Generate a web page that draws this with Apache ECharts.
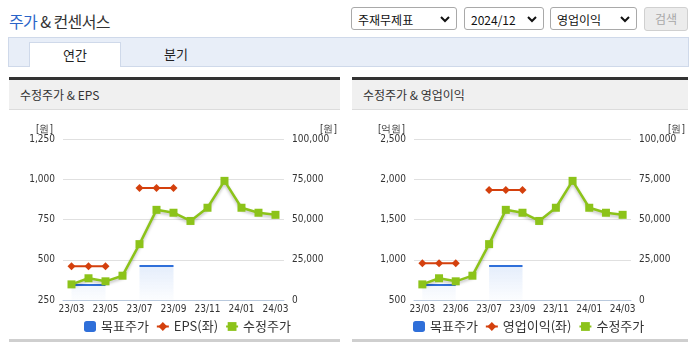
<!DOCTYPE html>
<html>
<head>
<meta charset="utf-8">
<script src="https://cdn.jsdelivr.net/npm/echarts@6/dist/echarts.min.js"></script>
<style>
  html, body { margin:0; padding:0; background:#fff; width:695px; height:349px; overflow:hidden;
    font-family:"Noto Sans CJK KR","Noto Sans",sans-serif; color:#333; }
  .abs { position:absolute; }
  #title { left:9px; top:10px; font-size:16px; line-height:22px; letter-spacing:-0.6px; color:#333; white-space:nowrap; }
  #title .b { color:#2a64c8; }
  .sel { position:absolute; top:7px; height:23px; border:1px solid #a9a9a9; border-radius:3px; background:#fff;
    font-size:12px; line-height:23px; padding-left:6px; box-sizing:border-box; color:#111; white-space:nowrap; }
  .sel svg { position:absolute; right:6px; top:8px; }
  #btn { position:absolute; left:644px; top:7px; width:44px; height:24px; border:1px solid #d0d0d0; border-radius:3px;
    background:#ececec; color:#a8a8a8; font-size:12px; line-height:22px; text-align:center; box-sizing:border-box; }
  #tabbar { left:8px; top:37px; width:681px; height:30px; background:#e8eef8; border:1px solid #cfd9ea; box-sizing:border-box; }
  #tab1 { left:29px; top:42px; width:92px; height:25px; background:#fff; border:1px solid #cfd9ea; border-bottom:none;
    box-sizing:border-box; font-size:13px; line-height:23px; text-align:center; color:#222; }
  #tab2 { left:150px; top:42px; width:52px; height:25px; font-size:13px; line-height:23px; text-align:center; color:#222; }
  .panel { position:absolute; top:77px; height:265px; }
  .panel .top { position:absolute; left:0; right:0; top:0; height:3px; background:#333; }
  .panel .hdr { position:absolute; left:0; right:0; top:3px; height:30px; background:#f0f0f0; border-bottom:1px solid #dcdcdc;
    font-size:12px; line-height:30px; padding-left:11px; color:#333; box-sizing:border-box; }
  .panel .bot { position:absolute; left:0; right:0; bottom:0; height:3px; background:#cfcfcf; }
  .chart { position:absolute; top:110px; height:229px; }
</style>
</head>
<body>
<div id="title" class="abs"><span class="b">주가</span> &amp; 컨센서스</div>

<div class="sel" style="left:351px;width:106px;">주재무제표<svg width="10" height="7" viewBox="0 0 10 7"><path d="M1 1 L5 5 L9 1" stroke="#111" stroke-width="2" fill="none"/></svg></div>
<div class="sel" style="left:464px;width:80px;">2024/12<svg width="10" height="7" viewBox="0 0 10 7"><path d="M1 1 L5 5 L9 1" stroke="#111" stroke-width="2" fill="none"/></svg></div>
<div class="sel" style="left:550px;width:87px;">영업이익<svg width="10" height="7" viewBox="0 0 10 7"><path d="M1 1 L5 5 L9 1" stroke="#111" stroke-width="2" fill="none"/></svg></div>
<div id="btn">검색</div>

<div id="tabbar" class="abs"></div>
<div id="tab1" class="abs">연간</div>
<div id="tab2" class="abs">분기</div>

<div class="panel" style="left:9px;width:331px;"><div class="top"></div><div class="hdr">수정주가 &amp; EPS</div><div class="bot"></div></div>
<div class="panel" style="left:352px;width:336px;"><div class="top"></div><div class="hdr">수정주가 &amp; 영업이익</div><div class="bot"></div></div>

<div id="c1" class="chart" style="left:9px;width:331px;"></div>
<div id="c2" class="chart" style="left:352px;width:336px;"></div>

<script>
// ---- data ----
const categoriesEps = ['23/03','23/04','23/05','23/06','23/07','23/08','23/09','23/10','23/11','23/12','24/01','24/02','24/03'];
const categoriesOp  = ['23/03','23/04','23/06','23/06','23/07','23/08','23/09','23/10','23/11','23/12','24/01','24/02','24/03'];
const adjPrice      = [9700, 13500, 11600, 15100, 34700, 56000, 54200, 49100, 57300, 74000, 57300, 54200, 52900];
const targetPrice   = [9300, 9300, 9300, null, 21100, 21100, 21100, null, null, null, null, null, null];
const epsValues     = [460, 460, 460, null, 945, 945, 945, null, null, null, null, null, null];
const opValues      = [955, 955, 955, null, 1865, 1865, 1865, null, null, null, null, null, null];
const leftTicksEps  = { min:250, max:1250, interval:250 };
const leftTicksOp   = { min:500, max:2500, interval:500 };
const rightTicks    = { min:0, max:100000, interval:25000 };

const AX_FONT = '"Liberation Sans Narrow","DejaVu Sans Condensed",sans-serif';
const BLUE = '#2f6fd9', RED = '#d4400d', GREEN = '#8cc31a';

function build(el, cats, barName, barVals, leftT, leftName, gridLeft, gridRight, nameRightPad, nameLeftPad, legendLeft) {
  const chart = echarts.init(document.getElementById(el), null, {renderer:'canvas'});
  const axisLabel = { fontFamily:AX_FONT, fontSize:10, color:'#333' };
  chart.setOption({
    animation:false,
    grid:{ left:gridLeft, right:gridRight, top:29, bottom:39 },
    legend:{
      left:legendLeft, top:205, itemWidth:12, itemHeight:11, itemGap:7,
      textStyle:{ fontSize:13, color:'#333', fontFamily:'"Noto Sans CJK KR",sans-serif' },
      data:[
        { name:'목표주가', icon:'roundRect', itemStyle:{ color:BLUE } },
        { name:barName },
        { name:'수정주가' }
      ]
    },
    xAxis:{
      type:'category', data:cats, boundaryGap:true,
      axisLine:{ lineStyle:{ color:'#b9c9dd' } },
      axisTick:{ interval:1, length:5, lineStyle:{ color:'#b9c9dd' } },
      axisLabel:Object.assign({ interval:1, margin:4 }, axisLabel)
    },
    yAxis:[
      { type:'value', min:leftT.min, max:leftT.max, interval:leftT.interval,
        name:leftName, nameLocation:'end', nameGap:4,
        nameTextStyle:{ fontFamily:AX_FONT, fontSize:10, color:'#333', align:'right', padding:[0,nameRightPad,0,0] },
        axisLine:{ show:false }, axisTick:{ show:false },
        splitLine:{ lineStyle:{ color:'#e0e0e0' } },
        axisLabel:Object.assign({ margin:8, formatter:v=>v.toLocaleString('en-US') }, axisLabel) },
      { type:'value', min:rightTicks.min, max:rightTicks.max, interval:rightTicks.interval,
        name:'[원]', nameLocation:'end', nameGap:4,
        nameTextStyle:{ fontFamily:AX_FONT, fontSize:10, color:'#333', align:'left', padding:[0,0,0,nameLeftPad] },
        axisLine:{ show:false }, axisTick:{ show:false }, splitLine:{ show:false },
        axisLabel:Object.assign({ margin:8, formatter:v=>v.toLocaleString('en-US') }, axisLabel) }
    ],
    series:[
      { name:'목표주가', type:'line', yAxisIndex:1, data:targetPrice, symbol:'none', connectNulls:false, z:1,
        lineStyle:{ color:BLUE, width:2 }, itemStyle:{ color:BLUE },
        areaStyle:{ origin:'start', color:new echarts.graphic.LinearGradient(0,0,0,1,[
          { offset:0, color:'rgba(120,165,235,0.28)' }, { offset:1, color:'rgba(120,165,235,0.03)' } ]) } },
      { name:barName, type:'line', yAxisIndex:0, data:barVals, symbol:'diamond', symbolSize:8, connectNulls:false, z:3,
        lineStyle:{ color:RED, width:2 }, itemStyle:{ color:RED } },
      { name:'수정주가', type:'line', yAxisIndex:1, data:adjPrice, symbol:'rect', symbolSize:8, z:4,
        lineStyle:{ color:GREEN, width:2.5, shadowColor:'rgba(0,0,0,0.25)', shadowBlur:3, shadowOffsetY:2 },
        itemStyle:{ color:GREEN } }
    ]
  });
}

build('c1', categoriesEps, 'EPS(좌)', epsValues, leftTicksEps, '[원]', 54, 48, 10, 36, 70);
build('c2', categoriesOp, '영업이익(좌)', opValues, leftTicksOp, '[억원]', 62, 53, 9, 37, 56);
</script>
</body>
</html>
